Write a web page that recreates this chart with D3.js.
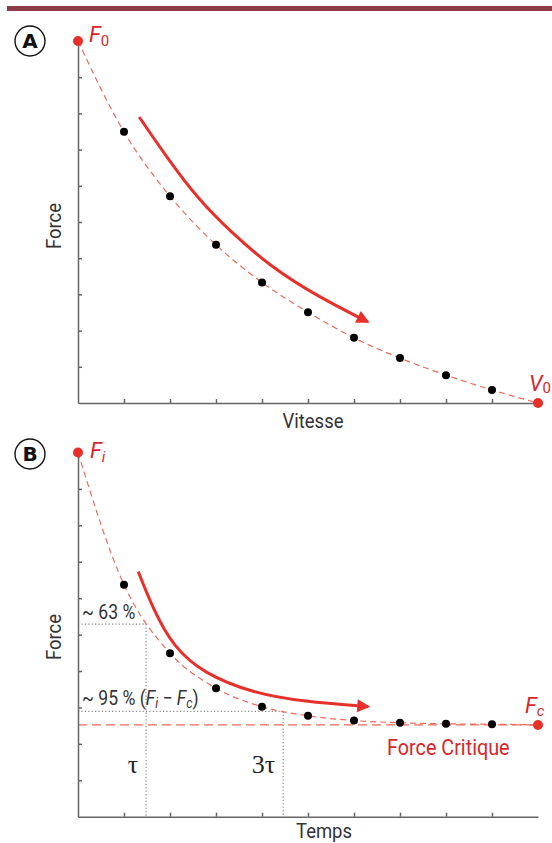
<!DOCTYPE html>
<html>
<head>
<meta charset="utf-8">
<script src="https://cdn.jsdelivr.net/npm/d3@7"></script>
<style>
  body { margin: 0; background: #fff; }
  svg { display: block; }
  text { font-family: "Roboto", "Noto Sans", sans-serif; }
</style>
</head>
<body>
<div id="chart"></div>
<script>
// Panneau A : force-vitesse
const vitesseA = [1, 2, 3, 4, 5, 6, 7, 8, 9];
const forceA = [7.49, 5.71, 4.37, 3.33, 2.51, 1.80, 1.24, 0.77, 0.36];
const f0 = 10, v0 = 10;
// flèche A (unités des données)
const flecheAx = [1.33, 1.95, 2.6, 3.3, 4.2, 5.2, 6.3];
const flecheAy = [7.9, 6.75, 5.65, 4.75, 3.75, 2.95, 2.24];

// Panneau B : force-temps
const tempsB = [1, 2, 3, 4, 5, 6, 7, 8, 9];
const forceB = [6.37, 4.49, 3.53, 3.02, 2.77, 2.64, 2.58, 2.55, 2.54];
const fi = 10, fc = 2.52;
const tau = 1.48, tau3 = 4.46;
const niveau63 = 5.29, niveau95 = 2.89;
const flecheBx = [1.31, 1.64, 2.07, 2.72, 3.81, 4.90, 6.31];
const flecheBy = [6.73, 5.68, 4.67, 3.94, 3.39, 3.16, 3.02];

const ticks = [1, 2, 3, 4, 5, 6, 7, 8, 9];

const W = 552, H = 843;
const rouge = "#e8302a", rougeClair = "#f26a5a", texteRouge = "#d7262b";

const svg = d3.select("#chart").append("svg")
  .attr("width", W).attr("height", H);

const defs = svg.append("defs");
defs.append("marker")
  .attr("id", "tete")
  .attr("viewBox", "0 0 10 10")
  .attr("refX", 8.5).attr("refY", 5)
  .attr("markerUnits", "userSpaceOnUse")
  .attr("markerWidth", 14).attr("markerHeight", 13)
  .attr("orient", "auto")
  .append("path").attr("d", "M0,0 L10,5 L0,10 Z").attr("fill", rouge);

// bande du haut
svg.append("rect").attr("x", 7).attr("y", 6).attr("width", W - 7).attr("height", 5)
  .attr("fill", "#8c3c48");

// texte un peu condensé
function texte(x, y, size, sx, couleur, anchor) {
  return svg.append("g").attr("transform", `translate(${x},${y}) scale(${sx},1)`)
    .append("text").attr("text-anchor", anchor || "start")
    .style("font-size", size + "px").attr("fill", couleur);
}

function pastille(cx, cy, lettre) {
  svg.append("circle").attr("cx", cx).attr("cy", cy).attr("r", 15)
    .attr("fill", "#fff").attr("stroke", "#111").attr("stroke-width", 1.4);
  svg.append("text").attr("x", cx).attr("y", cy + 7).attr("text-anchor", "middle")
    .style("font-family", "'DejaVu Sans', sans-serif")
    .style("font-weight", "bold").style("font-size", "20px").attr("fill", "#111").text(lettre);
}

function axes(x, y) {
  const gy = svg.append("g").attr("transform", `translate(${x(0)},0)`)
    .call(d3.axisRight(y).tickValues(ticks).tickSize(4).tickSizeOuter(0).tickFormat(""));
  const gx = svg.append("g").attr("transform", `translate(0,${y(0)})`)
    .call(d3.axisTop(x).tickValues(ticks).tickSize(4).tickSizeOuter(0).tickFormat(""));
  [gx, gy].forEach(g => {
    g.selectAll("path, line").attr("stroke", "#666").attr("stroke-width", 1.5);
  });
}

function labelY(cx, cy, txt) {
  svg.append("text").attr("transform", `translate(${cx},${cy}) rotate(-90) scale(0.88,1)`)
    .attr("text-anchor", "middle").style("font-size", "21px").attr("fill", "#333").text(txt);
}

function labelF(xp, yp, lettre, sub, dy) {
  const t = svg.append("text").attr("x", xp).attr("y", yp).attr("fill", texteRouge)
    .style("font-size", "22px");
  t.append("tspan").style("font-style", "italic").text(lettre);
  t.append("tspan").attr("dy", dy).style("font-size", "15px")
    .style("font-style", sub === "0" ? "normal" : "italic").text(sub);
}

// ================= A =================
const xA = d3.scaleLinear().domain([0, 10]).range([78, 538]);
const yA = d3.scaleLinear().domain([0, 10]).range([403, 41]);

pastille(30, 41, "A");
axes(xA, yA);

const ptsA = [[0, f0]].concat(vitesseA.map((v, i) => [v, forceA[i]])).concat([[v0, 0]]);
const ligneA = d3.line().x(d => xA(d[0])).y(d => yA(d[1])).curve(d3.curveMonotoneX);
svg.append("path").datum(ptsA).attr("d", ligneA)
  .attr("fill", "none").attr("stroke", rougeClair).attr("stroke-width", 1.2)
  .attr("stroke-dasharray", "6,4");

svg.append("path").datum(flecheAx.map((v, i) => [v, flecheAy[i]]))
  .attr("d", d3.line().x(d => xA(d[0])).y(d => yA(d[1])).curve(d3.curveBasis))
  .attr("fill", "none").attr("stroke", rouge).attr("stroke-width", 3)
  .attr("marker-end", "url(#tete)");

svg.selectAll(".ptA").data(vitesseA).enter().append("circle")
  .attr("cx", d => xA(d)).attr("cy", (d, i) => yA(forceA[i])).attr("r", 4).attr("fill", "#000");

svg.append("circle").attr("cx", xA(0)).attr("cy", yA(f0)).attr("r", 5).attr("fill", rouge);
svg.append("circle").attr("cx", xA(v0)).attr("cy", yA(0)).attr("r", 5).attr("fill", rouge);

labelF(89, 42, "F", "0", 4);
labelF(529, 391, "V", "0", 2);

labelY(61, 226, "Force");
texte(313, 428, 21, 0.88, "#333", "middle").text("Vitesse");

// ================= B =================
const xB = d3.scaleLinear().domain([0, 10]).range([78, 538]);
const yB = d3.scaleLinear().domain([0, 10]).range([816.7, 452.5]);

pastille(30, 454, "B");

// lignes pointillées tau
const gris = "#888";
function pointille(x1, y1, x2, y2) {
  svg.append("line").attr("x1", xB(x1)).attr("x2", xB(x2)).attr("y1", yB(y1)).attr("y2", yB(y2))
    .attr("stroke", gris).attr("stroke-width", 1.2).attr("stroke-dasharray", "1.2,2.2");
}
pointille(0, niveau63, tau, niveau63);
pointille(tau, niveau63, tau, 0);
pointille(0, niveau95, tau3, niveau95);
pointille(tau3, niveau95, tau3, 0);

// force critique
svg.append("line").attr("x1", xB(0)).attr("x2", xB(10)).attr("y1", yB(fc)).attr("y2", yB(fc))
  .attr("stroke", rougeClair).attr("stroke-width", 1.3).attr("stroke-dasharray", "9,5");

axes(xB, yB);

const ptsB = [[0, fi]].concat(tempsB.map((v, i) => [v, forceB[i]])).concat([[10, fc]]);
svg.append("path").datum(ptsB)
  .attr("d", d3.line().x(d => xB(d[0])).y(d => yB(d[1])).curve(d3.curveMonotoneX))
  .attr("fill", "none").attr("stroke", rougeClair).attr("stroke-width", 1.2)
  .attr("stroke-dasharray", "6,4");

svg.append("path").datum(flecheBx.map((v, i) => [v, flecheBy[i]]))
  .attr("d", d3.line().x(d => xB(d[0])).y(d => yB(d[1])).curve(d3.curveBasis))
  .attr("fill", "none").attr("stroke", rouge).attr("stroke-width", 3)
  .attr("marker-end", "url(#tete)");

svg.selectAll(".ptB").data(tempsB).enter().append("circle")
  .attr("cx", d => xB(d)).attr("cy", (d, i) => yB(forceB[i])).attr("r", 4).attr("fill", "#000");

svg.append("circle").attr("cx", xB(0)).attr("cy", yB(fi)).attr("r", 5).attr("fill", rouge);
svg.append("circle").attr("cx", xB(10)).attr("cy", yB(fc)).attr("r", 5).attr("fill", rouge);

labelF(90, 458, "F", "i", 4);
labelF(525, 713, "F", "c", 3);

texte(387, 755, 22, 0.9, texteRouge).text("Force Critique");

texte(82, yB(niveau63) - 5, 20, 0.88, "#333").text("~ 63 %");

const t95 = texte(82, yB(niveau95) - 6, 20, 0.88, "#333");
t95.append("tspan").text("~ 95 % (");
t95.append("tspan").style("font-style", "italic").text("F");
t95.append("tspan").attr("dy", 3).style("font-size", "14px").style("font-style", "italic").text("i");
t95.append("tspan").attr("dy", -3).text(" \u2212 ");
t95.append("tspan").style("font-style", "italic").text("F");
t95.append("tspan").attr("dy", 3).style("font-size", "14px").style("font-style", "italic").text("c");
t95.append("tspan").attr("dy", -3).text(")");

svg.append("text").attr("x", xB(tau) - 8).attr("y", 773).attr("text-anchor", "end")
  .style("font-family", "'Liberation Serif', serif").style("font-size", "26px").attr("fill", "#222").text("\u03c4");
svg.append("text").attr("x", xB(tau3) - 8).attr("y", 773).attr("text-anchor", "end")
  .style("font-family", "'Liberation Serif', serif").style("font-size", "26px").attr("fill", "#222").text("3\u03c4");

labelY(61, 637, "Force");
texte(324, 838, 21, 0.88, "#333", "middle").text("Temps");
</script>
</body>
</html>
